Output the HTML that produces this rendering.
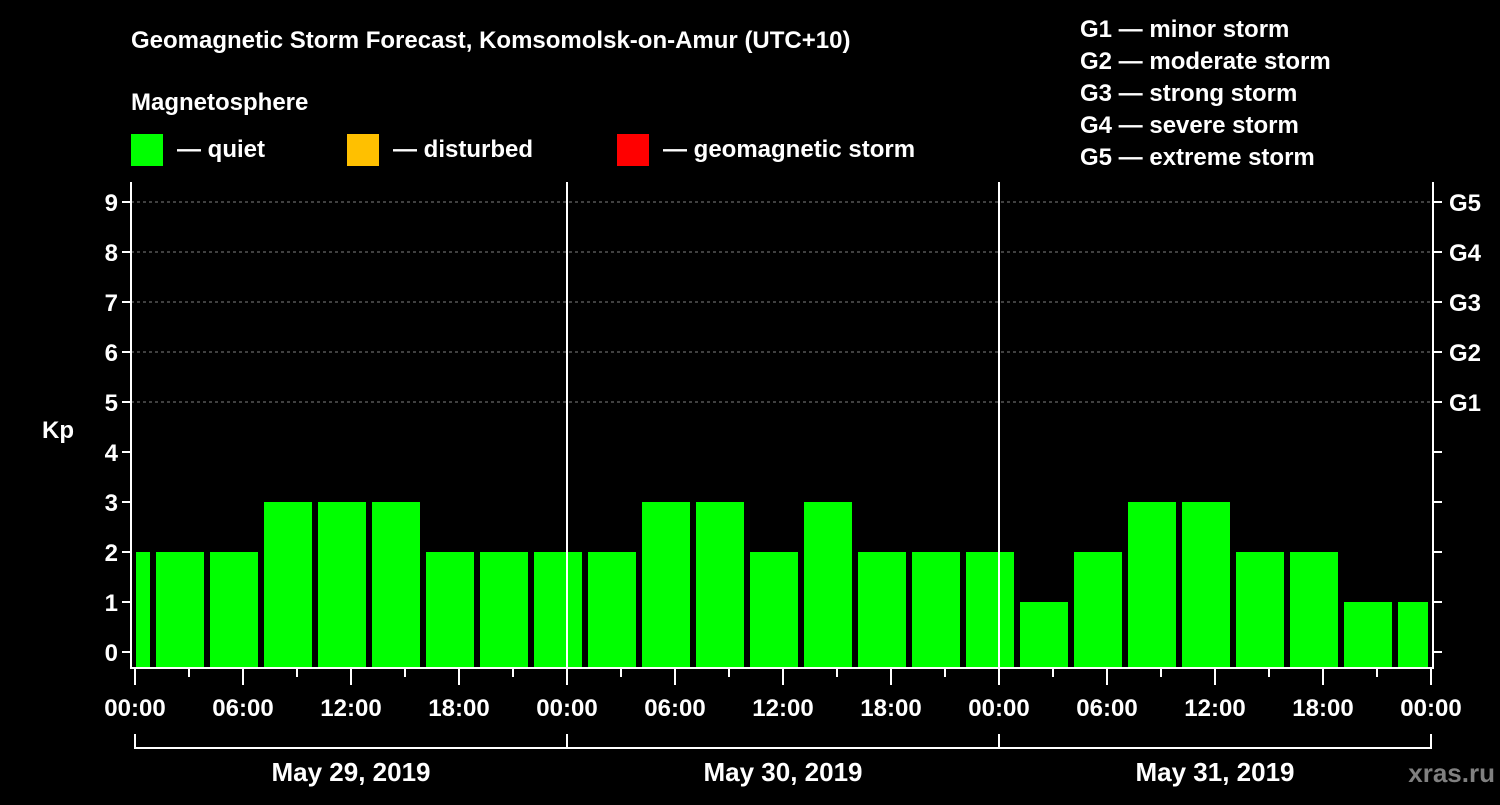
<!DOCTYPE html>
<html><head><meta charset="utf-8"><style>
body{margin:0;background:#000;width:1500px;height:800px;overflow:hidden}
svg text{font-family:"Liberation Sans",Arial,sans-serif;font-weight:bold;fill:#fff}
</style></head><body>
<svg id="chart" width="1500" height="800" viewBox="0 0 1500 800" xmlns="http://www.w3.org/2000/svg">
<text x="131" y="48" font-size="24">Geomagnetic Storm Forecast, Komsomolsk-on-Amur (UTC+10)</text>
<text x="131" y="110" font-size="24">Magnetosphere</text>
<g><rect x="131" y="134" width="32" height="32" fill="#00ff00"/><text x="177" y="157" font-size="24">— quiet</text></g>
<g><rect x="347" y="134" width="32" height="32" fill="#ffc000"/><text x="393" y="157" font-size="24">— disturbed</text></g>
<g><rect x="617" y="134" width="32" height="32" fill="#ff0000"/><text x="663" y="157" font-size="24">— geomagnetic storm</text></g>
<g font-size="24">
<text x="1080" y="37">G1 — minor storm</text>
<text x="1080" y="69">G2 — moderate storm</text>
<text x="1080" y="101">G3 — strong storm</text>
<text x="1080" y="133">G4 — severe storm</text>
<text x="1080" y="165">G5 — extreme storm</text>
</g>
<text x="42" y="438" font-size="24">Kp</text>
<g id="grid"></g><g id="bars"></g><g id="axes"></g>
<text x="1495" y="782" font-size="26" text-anchor="end" style="fill:#808080">xras.ru</text>
</svg>
<script>
const barStartHours=[0,1,4,7,10,13,16,19,22,25,28,31,34,37,40,43,46,49,52,55,58,61,64,67,70];
const kpValues=[2,2,2,3,3,3,2,2,2,2,3,3,2,3,2,2,2,1,2,3,3,2,2,1,1];
const yTicks=[0,1,2,3,4,5,6,7,8,9];
const gLabels=["","","","","","G1","G2","G3","G4","G5"];
const xTickLabels=["00:00","06:00","12:00","18:00","00:00","06:00","12:00","18:00","00:00","06:00","12:00","18:00","00:00"];
const dayLabels=["May 29, 2019","May 30, 2019","May 31, 2019"];
const totalHours=72;
const X0=135,X1=1431,L=131,R=1433,TOP=182,BOT=668;
const x=h=>X0+(X1-X0)*h/totalHours;
const y=v=>652-50*v;
const NS="http://www.w3.org/2000/svg";
function mk(parent,tag,attrs){const e=document.createElementNS(NS,tag);for(const k in attrs)e.setAttribute(k,attrs[k]);document.getElementById(parent).appendChild(e);return e;}
yTicks.forEach(v=>{if(v>=5){const g=mk('grid','line',{x1:L,x2:R,y1:y(v),y2:y(v),stroke:'#808080','stroke-dasharray':'3,3'});

}});
barStartHours.forEach((h,i)=>{
const end=Math.min(i+1<barStartHours.length?barStartHours[i+1]:h+3,totalHours);
const xa=x(h)+(h===0?1:3),xb=Math.min(x(end)-3,R-5);
const c=kpValues[i]>=5?'#ff0000':(kpValues[i]>=4?'#ffc000':'#00ff00');
const r=mk('bars','rect',{x:xa,y:y(kpValues[i]),width:xb-xa,height:BOT-y(kpValues[i]),fill:c});

});
const st={stroke:'#fff','stroke-width':2};
mk('axes','line',Object.assign({x1:L,x2:L,y1:TOP,y2:BOT+1},st));
mk('axes','line',Object.assign({x1:R,x2:R,y1:TOP,y2:BOT+1},st));
mk('axes','line',Object.assign({x1:L,x2:R,y1:BOT,y2:BOT},st));
[24,48].forEach(h=>{const l=mk('axes','line',Object.assign({x1:x(h),x2:x(h),y1:TOP,y2:BOT},st));

});
yTicks.forEach((v,i)=>{
mk('axes','line',Object.assign({x1:L-9,x2:L,y1:y(v),y2:y(v)},st));
mk('axes','line',Object.assign({x1:R,x2:R+9,y1:y(v),y2:y(v)},st));
const t=mk('axes','text',{x:L-13,y:y(v)+9,'font-size':24,'text-anchor':'end'});t.textContent=v;


if(gLabels[i]){const g=mk('axes','text',{x:R+16,y:y(v)+9,'font-size':24});g.textContent=gLabels[i];

}});
for(let h=0;h<=totalHours;h+=3){const major=h%6===0;
mk('axes','line',Object.assign({x1:x(h),x2:x(h),y1:BOT,y2:BOT+(major?17:9)},st));}
xTickLabels.forEach((s,i)=>{const t=mk('axes','text',{x:x(i*6),y:716,'font-size':24,'text-anchor':'middle'});t.textContent=s;

});
mk('axes','line',Object.assign({x1:X0,x2:X1,y1:748,y2:748},st));
for(let d=0;d<=3;d++)mk('axes','line',Object.assign({x1:x(d*24),x2:x(d*24),y1:734,y2:749},st));
dayLabels.forEach((s,i)=>{const t=mk('axes','text',{x:x(i*24+12),y:781,'font-size':26,'text-anchor':'middle'});t.textContent=s;

});
</script>
</body></html>
